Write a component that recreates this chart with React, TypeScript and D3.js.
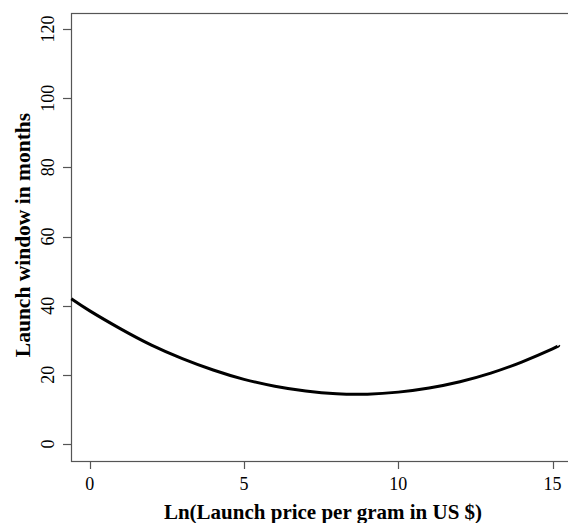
import React, { useEffect, useRef } from 'react';
import * as d3 from 'd3';

// values
const priceLn = [-0.6, 0, 1, 2, 3, 4, 5, 6, 7, 8, 9, 10, 11, 12, 13, 14, 15, 15.2];
const windowMonths = [42.0, 38.5, 33.3, 28.6, 24.7, 21.4, 18.7, 16.7, 15.3, 14.5, 14.4, 15.0, 16.2, 18.0, 20.5, 23.7, 27.5, 28.5];
const xTicks = [0, 5, 10, 15];
const yTicks = [0, 20, 40, 60, 80, 100, 120];

const W = 568, H = 523;

const App = () => {
    const ref = useRef<SVGSVGElement | null>(null);

    useEffect(() => {
        const svg = d3.select(ref.current);
        svg.selectAll('*').remove();

        // plot box (right side is cut off by the picture)
        const box = { left: 71, right: 575, top: 13, bottom: 461 };

        var x = d3.scaleLinear().domain([0, 15]).range([89.8, 552.5]);
        var y = d3.scaleLinear().domain([0, 120]).range([444, 29]);

        const font = 'Liberation Serif, Times New Roman, serif';
        const data = priceLn.map((p, i) => ({ p, m: windowMonths[i] }));

        // box
        svg.append('rect')
            .attr('x', box.left + 0.5)
            .attr('y', box.top + 0.5)
            .attr('width', box.right - box.left)
            .attr('height', box.bottom - box.top)
            .attr('fill', 'none')
            .attr('stroke', '#555')
            .attr('stroke-width', 1.2);

        // x axis ticks
        const gx = svg.append('g');
        xTicks.forEach(t => {
            gx.append('line')
                .attr('x1', Math.round(x(t)) + 0.5).attr('x2', Math.round(x(t)) + 0.5)
                .attr('y1', box.bottom).attr('y2', box.bottom + 8)
                .attr('stroke', '#555').attr('stroke-width', 1.2);
            gx.append('text')
                .attr('x', x(t)).attr('y', 490)
                .attr('text-anchor', 'middle')
                .style('font-family', font).style('font-size', '18px')
                .text(t);
        });

        // y axis ticks (labels rotated like R's default)
        const gy = svg.append('g');
        yTicks.forEach(t => {
            gy.append('line')
                .attr('x1', box.left - 8).attr('x2', box.left)
                .attr('y1', Math.round(y(t)) + 0.5).attr('y2', Math.round(y(t)) + 0.5)
                .attr('stroke', '#555').attr('stroke-width', 1.2);
            gy.append('text')
                .attr('transform', `translate(54,${y(t)}) rotate(-90)`)
                .attr('text-anchor', 'middle')
                .style('font-family', font).style('font-size', '18px')
                .text(t);
        });

        // axis titles
        svg.append('text')
            .attr('x', (box.left + box.right) / 2).attr('y', 519)
            .attr('text-anchor', 'middle')
            .style('font-family', font).style('font-size', '21px').style('font-weight', 'bold')
            .text('Ln(Launch price per gram in US $)');

        svg.append('text')
            .attr('transform', `translate(30,${(box.top + box.bottom) / 2 - 2}) rotate(-90)`)
            .attr('text-anchor', 'middle')
            .style('font-family', font).style('font-size', '21.5px').style('font-weight', 'bold')
            .text('Launch window in months');

        // fitted curve
        const line = d3.line<{ p: number; m: number }>()
            .x(d => x(d.p))
            .y(d => y(d.m))
            .curve(d3.curveNatural);

        svg.append('path')
            .datum(data)
            .attr('d', line)
            .attr('fill', 'none')
            .attr('stroke', '#000')
            .attr('stroke-width', 3);
    }, []);

    return (
        <svg ref={ref} width={W} height={H}
            style={{ position: 'absolute', left: 0, top: 0, background: '#fff' }} />
    );
};

export default App;
